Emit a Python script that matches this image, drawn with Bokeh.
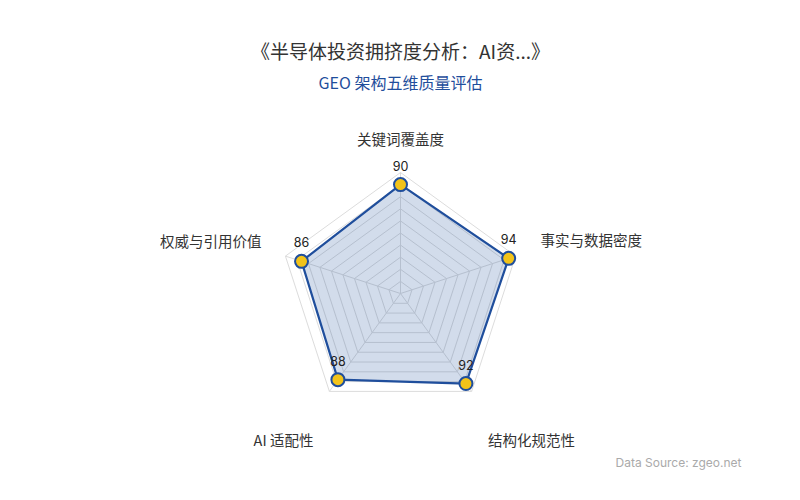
import math
from bokeh.plotting import figure
from bokeh.models import Range1d, ColumnDataSource
from bokeh.core.properties import value
from bokeh.embed import file_html
from bokeh.resources import INLINE

title_text = "《半导体投资拥挤度分析：AI资...》"
subtitle_text = "GEO 架构五维质量评估"
source_text = "Data Source: zgeo.net"
categories = ["关键词覆盖度", "事实与数据密度", "结构化规范性", "AI 适配性", "权威与引用价值"]
values = [90, 94, 92, 88, 86]
max_value = 100
split_levels = [10, 20, 30, 40, 50, 60, 70, 80, 90, 100]

W, H = 784, 484
CX, CY = 400, 293          # centre in picture pixels
R = 121                    # radius for max value, pixels
angles = [math.radians(90 - 72 * i) for i in range(len(categories))]

p = figure(width=W, height=H, output_backend="svg", toolbar_location=None,
           x_range=Range1d(-CX, W - CX),
           y_range=Range1d(-(H - CY), CY),
           min_border=0)
p.axis.visible = False
p.grid.visible = False
p.outline_line_color = None
p.background_fill_color = "white"
p.border_fill_color = "white"

FONT_CJK = "Noto Sans CJK SC"

# grid rings
for lv in split_levels:
    r = lv / max_value * R
    xs = [r * math.cos(a) for a in angles] + [r * math.cos(angles[0])]
    ys = [r * math.sin(a) for a in angles] + [r * math.sin(angles[0])]
    p.line(xs, ys, line_color="#dcdcdc", line_width=1)
# axis spokes
for a in angles:
    p.line([0, R * math.cos(a)], [0, R * math.sin(a)], line_color="#dcdcdc", line_width=1)

# data polygon
dx = [v / max_value * R * math.cos(a) for v, a in zip(values, angles)]
dy = [v / max_value * R * math.sin(a) for v, a in zip(values, angles)]
p.patch(dx, dy, fill_color="#1f4e9c", fill_alpha=0.2, line_color="#1f4e9c", line_width=2.2)
p.scatter(dx, dy, size=13, fill_color="#f2c31a", line_color="#1f4e9c", line_width=2)

# value labels
vsrc = ColumnDataSource(dict(x=dx, y=[y + 19 for y in dy], t=[str(v) for v in values]))
p.text("x", "y", text="t", source=vsrc, text_align="center", text_baseline="middle",
       text_font=value("Inter"), text_font_size="12.5px", text_color="#222222")

# axis names (measured positions in picture px)
name_pos = [(400, 138, "center"), (540, 239, "left"), (531, 439, "center"),
            (283, 439, "center"), (261, 240, "right")]
for name, (px, py, al) in zip(categories, name_pos):
    p.text([px - CX], [CY - py], text=[name], text_align=al, text_baseline="middle",
           text_font=value(FONT_CJK), text_font_size="14.5px", text_color="#333333")

# titles
p.text([0], [CY - 50], text=[title_text], text_align="center", text_baseline="middle",
       text_font=value(FONT_CJK), text_font_size="19px", text_color="#333333")
p.text([0], [CY - 81], text=[subtitle_text], text_align="center", text_baseline="middle",
       text_font=value(FONT_CJK), text_font_size="16px", text_color="#1f4e9c")
p.text([741 - CX], [CY - 462], text=[source_text], text_align="right", text_baseline="middle",
       text_font=value("Inter"), text_font_size="12px", text_color="#aaaaaa")

open("out.html", "w").write(file_html(p, INLINE))
